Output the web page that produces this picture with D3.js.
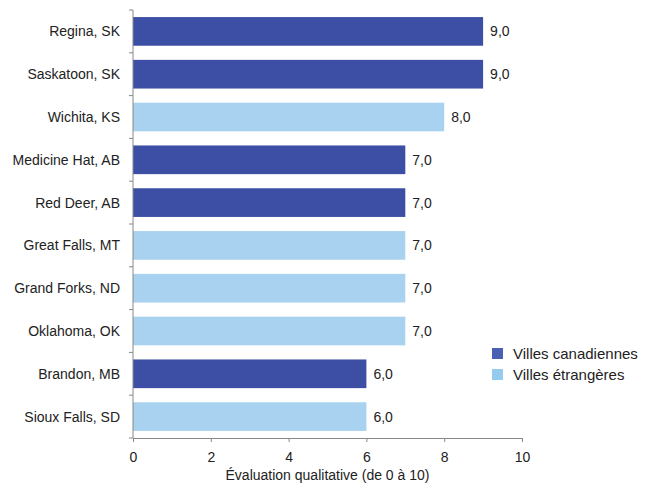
<!DOCTYPE html>
<html>
<head>
<meta charset="utf-8">
<script src="https://cdn.jsdelivr.net/npm/d3@7"></script>
<style>
  body { margin: 0; background: #fff; }
  text { font-family: "Liberation Sans", Arial, sans-serif; fill: #222; }
</style>
</head>
<body>
<svg id="chart" width="645" height="487"></svg>
<script>
// chart data
const cities = ['Regina, SK', 'Saskatoon, SK', 'Wichita, KS', 'Medicine Hat, AB', 'Red Deer, AB',
    'Great Falls, MT', 'Grand Forks, ND', 'Oklahoma, OK', 'Brandon, MB', 'Sioux Falls, SD'];
const scores = [9, 9, 8, 7, 7, 7, 7, 7, 6, 6];
const groups = ['ca', 'ca', 'us', 'ca', 'ca', 'us', 'us', 'us', 'ca', 'us'];
const legendLabels = ['Villes canadiennes', 'Villes étrangères'];
const xTicks = [0, 2, 4, 6, 8, 10];

const colors = { ca: '#3c4fa4', us: '#a9d2f0' };

const svg = d3.select('#chart');
const plotLeft = 133, plotRight = 522, plotTop = 10, plotBottom = 438;

const x = d3.scaleLinear().domain([0, 10]).range([plotLeft, plotRight]);
const y = d3.scaleBand().domain(cities).range([plotTop, plotBottom]).paddingInner(0.33).paddingOuter(0.165);

const fmt = v => d3.format('.1f')(v).replace('.', ',');

// bars
svg.append('g').selectAll('rect')
    .data(cities)
    .join('rect')
    .attr('x', x(0))
    .attr('y', d => y(d))
    .attr('width', (d, i) => x(scores[i]) - x(0))
    .attr('height', y.bandwidth())
    .attr('fill', (d, i) => colors[groups[i]]);

// value labels
svg.append('g').selectAll('text')
    .data(cities)
    .join('text')
    .attr('x', (d, i) => x(scores[i]) + 7)
    .attr('y', d => y(d) + y.bandwidth() / 2)
    .attr('dy', '0.35em')
    .attr('font-size', '14px')
    .text((d, i) => fmt(scores[i]));

// y axis: ticks sit between bands
const step = y.step();
const yAxis = svg.append('g');
yAxis.append('line')
    .attr('x1', plotLeft).attr('x2', plotLeft)
    .attr('y1', plotTop).attr('y2', plotBottom)
    .attr('stroke', '#888');
yAxis.selectAll('line.tk')
    .data(d3.range(cities.length + 1))
    .join('line')
    .attr('class', 'tk')
    .attr('x1', plotLeft - 4).attr('x2', plotLeft)
    .attr('y1', i => plotTop + i * step).attr('y2', i => plotTop + i * step)
    .attr('stroke', '#888');
yAxis.selectAll('text')
    .data(cities)
    .join('text')
    .attr('x', 120)
    .attr('y', d => y(d) + y.bandwidth() / 2)
    .attr('dy', '0.35em')
    .attr('text-anchor', 'end')
    .attr('font-size', '14px')
    .text(d => d);

// x axis
const xAxis = svg.append('g')
    .attr('transform', `translate(0,${plotBottom})`)
    .call(d3.axisBottom(x).tickValues(xTicks).tickSize(4).tickPadding(10).tickFormat(d3.format('d')));
xAxis.select('.domain').attr('stroke', '#888');
xAxis.selectAll('.tick line').attr('stroke', '#888');
xAxis.selectAll('.tick text')
    .attr('font-family', '"Liberation Sans", Arial, sans-serif')
    .attr('font-size', '14px')
    .attr('fill', '#222');

svg.append('text')
    .attr('x', (plotLeft + plotRight) / 2)
    .attr('y', 480)
    .attr('text-anchor', 'middle')
    .attr('font-size', '14px')
    .text('Évaluation qualitative (de 0 à 10)');

// legend
const legend = svg.append('g').attr('transform', 'translate(492,348)');
legendLabels.forEach((lab, i) => {
    const g = legend.append('g').attr('transform', `translate(0,${i * 21})`);
    g.append('rect').attr('width', 11).attr('height', 11)
        .attr('fill', i === 0 ? '#4a61b3' : '#95cbef');
    g.append('text').attr('x', 21).attr('y', 6).attr('dy', '0.35em')
        .attr('font-size', '15px').text(lab);
});
</script>
</body>
</html>
